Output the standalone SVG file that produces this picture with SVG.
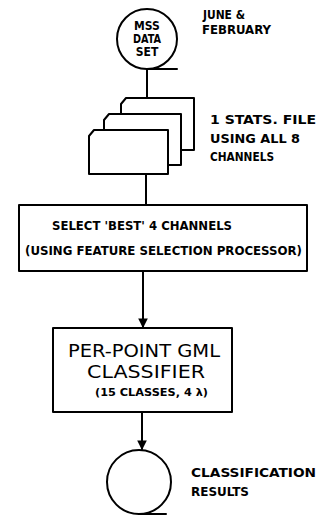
<svg xmlns="http://www.w3.org/2000/svg" width="325" height="529" viewBox="0 0 325 529">
<defs>
<style>
.ln{fill:none;stroke:#000;stroke-width:2;stroke-linecap:round;stroke-linejoin:round}
.bx{fill:#fff;stroke:#000;stroke-width:2;stroke-linejoin:round}
.t{font-family:"DejaVu Sans Condensed","Liberation Sans",sans-serif;font-stretch:condensed;font-weight:bold;fill:#000}
.s{font-size:12px}
.b{font-size:17px;font-weight:normal}
</style>
<marker id="ah" viewBox="0 0 8 10" refX="7" refY="5" markerWidth="5" markerHeight="6" orient="auto">
<path d="M0,1 L8,5 L0,9 z" fill="#000"/>
</marker>
</defs>
<g id="connectors">
<line class="ln" x1="147" y1="70" x2="147" y2="104"/>
<line class="ln" x1="146" y1="174" x2="146" y2="205"/>
<line class="ln" x1="143" y1="271" x2="143" y2="327" marker-end="url(#ah)"/>
<line class="ln" x1="142" y1="412" x2="142" y2="449" marker-end="url(#ah)"/>
</g>
<g id="mss">
<circle class="bx" cx="147" cy="39" r="30"/>
<line class="ln" x1="147" y1="69" x2="177" y2="69"/>
<text class="t s" text-anchor="middle" x="147" y="30">MSS</text>
<text class="t s" text-anchor="middle" x="147" y="43" textLength="28" lengthAdjust="spacingAndGlyphs">DATA</text>
<text class="t s" text-anchor="middle" x="147" y="56">SET</text>
<text class="t s" x="203" y="19" textLength="42" lengthAdjust="spacingAndGlyphs">JUNE &amp;</text>
<text class="t s" x="202" y="34" textLength="69" lengthAdjust="spacingAndGlyphs">FEBRUARY</text>
</g>
<g id="stats">
<path class="bx" d="M121,104 L126,98 L194,98 L194,150 L121,150 Z"/>
<path class="bx" d="M104,120 L109,114 L181,114 L181,165 L104,165 Z"/>
<path class="bx" d="M89,136 L94,130 L168,130 L168,174 L89,174 Z"/>
<text class="t s" x="210" y="124" textLength="106" lengthAdjust="spacingAndGlyphs">1 STATS. FILE</text>
<text class="t s" x="210" y="143" textLength="90" lengthAdjust="spacingAndGlyphs">USING ALL 8</text>
<text class="t s" x="210" y="161" textLength="64" lengthAdjust="spacingAndGlyphs">CHANNELS</text>
</g>
<g id="select">
<rect class="bx" x="19" y="205" width="288" height="66"/>
<text class="t s" x="52" y="230" textLength="180" lengthAdjust="spacingAndGlyphs">SELECT 'BEST' 4 CHANNELS</text>
<text class="t s" x="25" y="255" textLength="277" lengthAdjust="spacingAndGlyphs">(USING FEATURE SELECTION PROCESSOR)</text>
</g>
<g id="gml">
<rect class="bx" x="53" y="328" width="179" height="84"/>
<text class="t b" x="68" y="357" textLength="152" lengthAdjust="spacingAndGlyphs">PER-POINT GML</text>
<text class="t b" x="87" y="378" textLength="118" lengthAdjust="spacingAndGlyphs">CLASSIFIER</text>
<text class="t" font-size="11" x="95" y="396" textLength="113" lengthAdjust="spacingAndGlyphs">(15 CLASSES, 4 λ)</text>
</g>
<g id="results">
<circle class="bx" cx="139" cy="482" r="32"/>
<line class="ln" x1="139" y1="514" x2="166" y2="514"/>
<text class="t s" x="191" y="477" textLength="125" lengthAdjust="spacingAndGlyphs">CLASSIFICATION</text>
<text class="t s" x="191" y="496" textLength="58" lengthAdjust="spacingAndGlyphs">RESULTS</text>
</g>
</svg>
